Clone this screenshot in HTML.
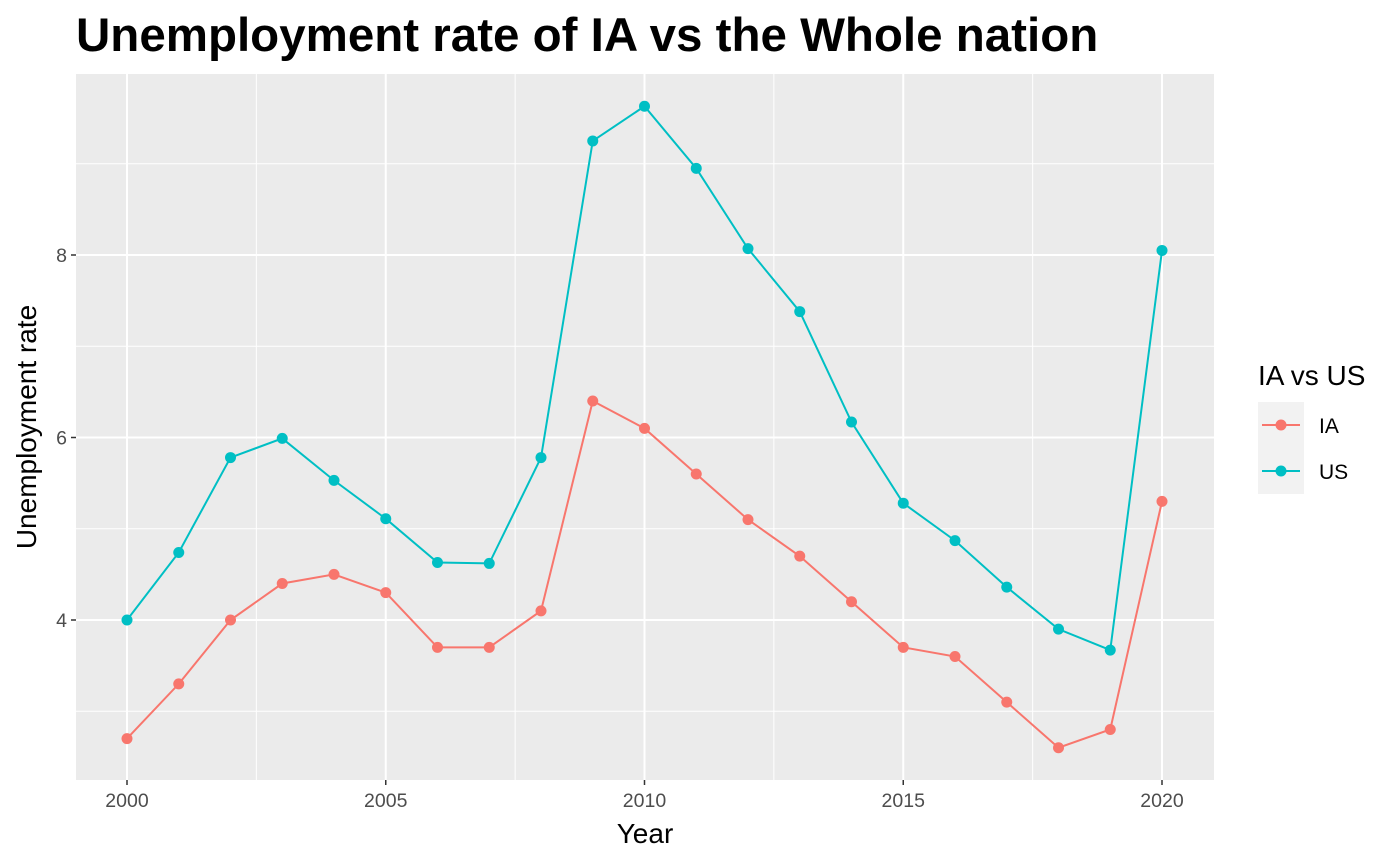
<!DOCTYPE html>
<html><head><meta charset="utf-8"><style>body{margin:0;background:#fff}svg{display:block;font-family:"Liberation Sans",Arial,sans-serif}</style></head>
<body>
<svg id="c" width="1400" height="865"></svg>
<script>
const years=[2000,2001,2002,2003,2004,2005,2006,2007,2008,2009,2010,2011,2012,2013,2014,2015,2016,2017,2018,2019,2020];
const iaValues=[2.7,3.3,4.0,4.4,4.5,4.3,3.7,3.7,4.1,6.4,6.1,5.6,5.1,4.7,4.2,3.7,3.6,3.1,2.6,2.8,5.3];
const usValues=[4.0,4.74,5.78,5.99,5.53,5.11,4.63,4.62,5.78,9.25,9.63,8.95,8.07,7.38,6.17,5.28,4.87,4.36,3.9,3.67,8.05];
const xTicks=[2000,2005,2010,2015,2020];
const yTicks=[4,6,8];
const NS='http://www.w3.org/2000/svg';
const svg=document.getElementById('c');
const P={l:76,r:1214,t:74,b:780};
const X=v=>127+(v-2000)*51.75;
const Y=v=>620-(v-4)*91.25;
function el(t,a,p){const e=document.createElementNS(NS,t);for(const k in a)e.setAttribute(k,a[k]);(p||svg).appendChild(e);return e;}
const bg=el('rect',{x:P.l,y:P.t,width:P.r-P.l,height:P.b-P.t,fill:'#ebebeb'});


for(let v=2002.5;v<2020;v+=5){const l=el('line',{x1:X(v),x2:X(v),y1:P.t,y2:P.b,stroke:'#fff','stroke-width':1});}
[3,5,7,9].forEach(v=>{const l=el('line',{x1:P.l,x2:P.r,y1:Y(v),y2:Y(v),stroke:'#fff','stroke-width':1});});
xTicks.forEach(v=>{const l=el('line',{x1:X(v),x2:X(v),y1:P.t,y2:P.b,stroke:'#fff','stroke-width':2});
const t=el('line',{x1:X(v),x2:X(v),y1:P.b,y2:P.b+5,stroke:'#333','stroke-width':1.5});
const tx=el('text',{x:X(v),y:P.b+27,'text-anchor':'middle','font-size':19.5,fill:'#4d4d4d'});tx.textContent=v;});
yTicks.forEach(v=>{const l=el('line',{x1:P.l,x2:P.r,y1:Y(v),y2:Y(v),stroke:'#fff','stroke-width':2});
const t=el('line',{x1:P.l-5,x2:P.l,y1:Y(v),y2:Y(v),stroke:'#333','stroke-width':1.5});
const tx=el('text',{x:P.l-9,y:Y(v)+7,'text-anchor':'end','font-size':19.5,fill:'#4d4d4d'});tx.textContent=v;});
function series(vals,color,name){
const pl=el('polyline',{points:vals.map((v,i)=>X(years[i])+','+Y(v)).join(' '),fill:'none',stroke:color,'stroke-width':2});

vals.forEach((v,i)=>{const c=el('circle',{cx:X(years[i]),cy:Y(v),r:5.5,fill:color});});}
series(iaValues,'#f8766d','ia');
series(usValues,'#00bfc4','us');
const ti=el('text',{x:76,y:51,'font-size':47.5,'font-weight':'bold',fill:'#000'});ti.textContent='Unemployment rate of IA vs the Whole nation';
const xt=el('text',{x:645,y:843,'text-anchor':'middle','font-size':28,fill:'#000'});xt.textContent='Year';
const yt=el('text',{x:0,y:0,'text-anchor':'middle','font-size':28,fill:'#000',transform:'translate(36,427) rotate(-90)'});yt.textContent='Unemployment rate';
const lt=el('text',{x:1258,y:385,'font-size':28,fill:'#000'});lt.textContent='IA vs US';
[['IA','#f8766d',402],['US','#00bfc4',448]].forEach(([n,c,y])=>{
const r=el('rect',{x:1258,y:y,width:46,height:46,fill:'#f2f2f2'});
const l=el('line',{x1:1262,x2:1300,y1:y+23,y2:y+23,stroke:c,'stroke-width':2});
const ci=el('circle',{cx:1281,cy:y+23,r:5.5,fill:c});
const t=el('text',{x:1319,y:y+31,'font-size':21,fill:'#000'});t.textContent=n;});
</script>
</body></html>
